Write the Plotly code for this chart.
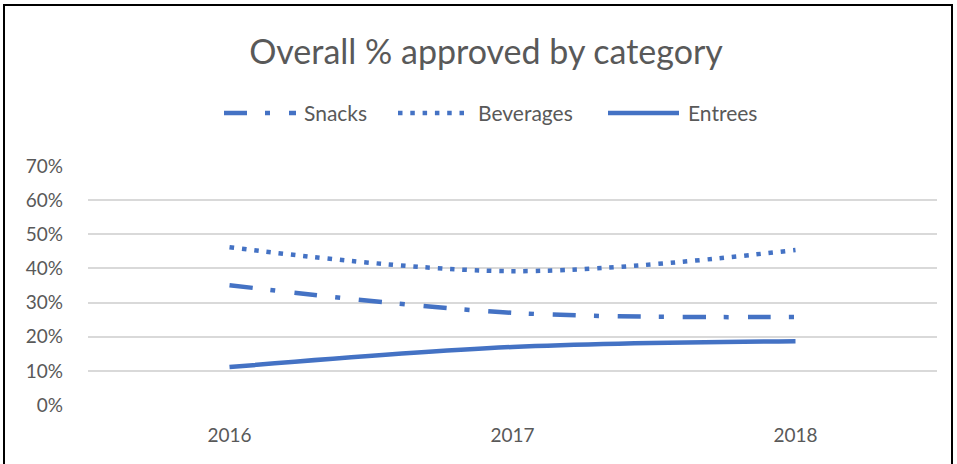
import plotly.graph_objects as go

years = ["2016", "2017", "2018"]
snacks = [0.351, 0.270, 0.258]
beverages = [0.462, 0.392, 0.454]
entrees = [0.111, 0.170, 0.187]

blue = "#4472C4"
grey = "#595959"
font_family = "Lato, 'Open Sans', sans-serif"

dash_styles = {
    "Snacks": "23px,18px,5px,19px",
    "Beverages": "4.5px,7.8px",
    "Entrees": "solid",
}
series = {"Snacks": snacks, "Beverages": beverages, "Entrees": entrees}

fig = go.Figure()
for name, values in series.items():
    fig.add_trace(go.Scatter(
        x=years, y=values, name=name, mode="lines", showlegend=False,
        line=dict(color=blue, width=4.5, dash=dash_styles[name],
                  shape="spline", smoothing=1),
    ))

# plot area in pixels: x 88..937, y 166..405
def px_x(p):
    return (p - 88) / 849

def px_y(p):
    return (405 - p) / 239

# legend row drawn with long line samples
legend_items = [
    ("Snacks", 224, 296, 302),
    ("Beverages", 398, 464, 476),
    ("Entrees", 608, 679, 686),
]
legend_y = px_y(113)
for name, s0, s1, tx in legend_items:
    fig.add_shape(type="line", xref="paper", yref="paper",
                  x0=px_x(s0), x1=px_x(s1), y0=legend_y, y1=legend_y,
                  line=dict(color=blue, width=4.5, dash=dash_styles[name]))
    fig.add_annotation(text=name, xref="paper", yref="paper",
                       x=px_x(tx), y=legend_y, xanchor="left", yanchor="middle",
                       showarrow=False, font=dict(size=21, color=grey, family=font_family))

# outer chart frame
fig.add_shape(type="rect", xref="paper", yref="paper",
              x0=px_x(4), x1=px_x(952), y0=px_y(470), y1=px_y(5),
              line=dict(color="black", width=2), fillcolor="rgba(0,0,0,0)",
              layer="below")

fig.update_layout(
    width=957, height=464,
    margin=dict(l=88, r=20, t=166, b=59),
    paper_bgcolor="white", plot_bgcolor="white",
    font=dict(family=font_family, color=grey, size=19),
    title=dict(text="Overall % approved by category", x=486 / 957, xanchor="center",
               xref="container", y=1 - 52 / 464, yref="container", yanchor="middle",
               font=dict(size=34, color=grey, family=font_family)),
    showlegend=False,
)
fig.update_xaxes(type="category", range=[-0.5, 2.5], showgrid=False, showline=False,
                 zeroline=False, ticks="", tickfont=dict(size=19, color=grey),
                 ticklabelstandoff=17)
fig.update_yaxes(range=[0, 0.7], tickvals=[0, 0.1, 0.2, 0.3, 0.4, 0.5, 0.6, 0.7],
                 tickformat=".0%", showgrid=True, gridcolor="#D9D9D9", gridwidth=1.5,
                 zeroline=False, showline=False, ticks="",
                 tickfont=dict(size=19, color=grey), ticklabelstandoff=24)

fig.write_html("out.html")
